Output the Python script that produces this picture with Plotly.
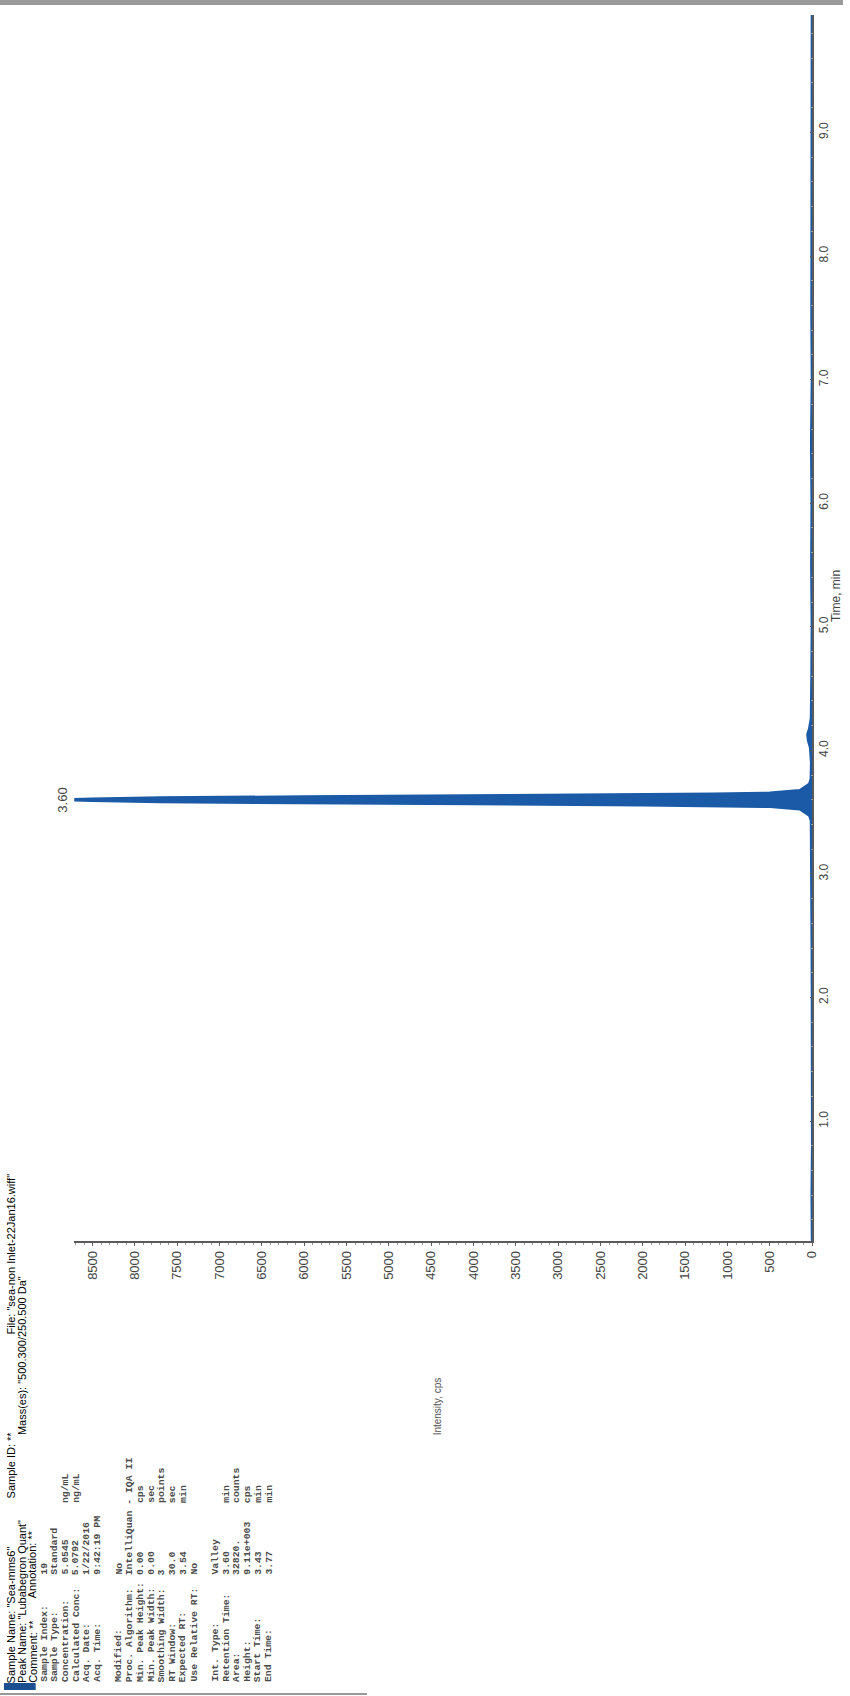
import plotly.graph_objects as go

# ---- chromatogram data (XIC 500.300/250.500 Da) ----
time_min = [0.03, 0.40, 0.80, 1.20, 1.60, 2.00, 2.40, 2.80, 3.10, 3.30, 3.43, 3.47,
            3.52, 3.54, 3.548, 3.553, 3.562, 3.57, 3.578, 3.588, 3.60, 3.612,
            3.622, 3.63, 3.638, 3.647, 3.652, 3.66, 3.68, 3.73, 3.77, 3.90, 4.02,
            4.08, 4.13, 4.18, 4.26, 4.60, 5.00, 5.50, 6.00, 6.50, 7.00, 7.50,
            8.00, 8.50, 9.00, 9.50, 9.95]
intensity_cps = [8, 12, 6, 10, 14, 9, 11, 13, 10, 15, 20, 40,
                 150, 500, 1160, 2000, 4000, 6000, 7700, 8500, 9110, 8500,
                 7700, 6000, 4000, 2000, 1160, 500, 150, 40, 22, 18, 30,
                 55, 62, 40, 20, 14, 10, 16, 12, 18, 9, 14,
                 11, 8, 12, 10, 9]

peak_rt = 3.60
peak_label = "3.60"

intensity_ticks = [0, 500, 1000, 1500, 2000, 2500, 3000, 3500, 4000, 4500,
                   5000, 5500, 6000, 6500, 7000, 7500, 8000, 8500]
time_ticks = [1.0, 2.0, 3.0, 4.0, 5.0, 6.0, 7.0, 8.0, 9.0]

# header: (line index, text, anchor edge, position along the page in px)
header_parts = [
    (0, 'Sample Name: "Sea-mms6"', "start", 1685),
    (0, 'Sample ID: **', "start", 1500),
    (0, 'File: "sea-non Inlet-22Jan16.wiff"', "end", 1171),
    (1, 'Peak Name: "Lubabegron Quant"', "start", 1685),
    (1, 'Mass(es): "500.300/250.500 Da"', "end", 1274),
    (2, 'Comment: **', "start", 1685),
    (2, 'Annotation: **', "start", 1600),
]

info_labels = ["Sample Index:", "Sample Type:", "Concentration:", "Calculated Conc:",
               "Acq. Date:", "Acq. Time:", "", "Modified:", "Proc. Algorithm:",
               "Min. Peak Height:", "Min. Peak Width:", "Smoothing Width:",
               "RT Window:", "Expected RT:", "Use Relative RT:", "",
               "Int. Type:", "Retention Time:", "Area:", "Height:",
               "Start Time:", "End Time:"]
info_values = ["19", "Standard", "5.0545", "5.0792", "1/22/2016", "9:42:19 PM", "",
               "No", "IntelliQuan - IQA II", "0.00", "0.00", "3", "30.0", "3.54",
               "No", "", "Valley", "3.60", "32820.", "9.11e+003", "3.43", "3.77"]
info_units = ["", "", "ng/mL", "ng/mL", "", "", "", "", "", "cps", "sec", "points",
              "sec", "min", "", "", "", "min", "counts", "cps", "min", "min"]

# ---- page geometry (pixels) ----
W, H = 850, 1696
X_LEFT, X_RIGHT = 75, 819        # intensity axis extent (high -> 0)
Y_TOP, Y_BOTTOM = 15, 1241       # time axis extent
INT_MAX = 8715
T_MIN, T_MAX = 0.03, 9.95


def px(x):
    return x / W


def py(y):
    return 1 - y / H


BLUE = "#1b5aa6"
AXIS = "#5a5a5a"
SANS = "Liberation Sans, Arial, sans-serif"

fig = go.Figure()

fig.add_trace(go.Scatter(
    x=intensity_cps, y=time_min, mode="lines",
    line=dict(color=BLUE, width=1.6),
    fill="tozerox", fillcolor=BLUE,
    hoverinfo="skip", showlegend=False, cliponaxis=True,
))

fig.update_layout(
    width=W, height=H,
    margin=dict(l=0, r=0, t=0, b=0),
    paper_bgcolor="white", plot_bgcolor="white",
    showlegend=False,
    xaxis=dict(
        domain=[px(X_LEFT), px(X_RIGHT)],
        range=[INT_MAX, 0],
        tickmode="array", tickvals=intensity_ticks,
        ticktext=[str(v) for v in intensity_ticks],
        tickangle=-90, ticks="outside", ticklen=3, tickcolor=AXIS,
        tickfont=dict(family=SANS, size=13, color="#444"),
        showline=True, linecolor=AXIS, linewidth=1.5,
        showgrid=False, zeroline=False, anchor="y",
        minor=dict(ticks="outside", ticklen=2, dtick=100, tickcolor="#999"),
    ),
    yaxis=dict(
        domain=[py(Y_BOTTOM), py(Y_TOP)],
        range=[T_MIN, T_MAX],
        side="right",
        tickmode="array", tickvals=time_ticks,
        ticktext=[f"{v:.1f}" for v in time_ticks],
        tickangle=-90, ticks="inside", ticklen=3, tickcolor=AXIS,
        tickfont=dict(family=SANS, size=12, color="#444"),
        showline=True, linecolor=AXIS, linewidth=1.5,
        showgrid=False, zeroline=False, anchor="x",
        minor=dict(ticks="inside", ticklen=2, dtick=0.2, tickcolor="#999"),
    ),
)

annotations = []

# retention-time label beyond the apex
annotations.append(dict(
    x=INT_MAX, y=peak_rt, xref="x", yref="y", text=peak_label, showarrow=False,
    textangle=-90, xanchor="right", yanchor="middle", xshift=-2,
    font=dict(family=SANS, size=13, color="#444"),
))

# axis titles
annotations.append(dict(
    x=px(843), y=py(624), xref="paper", yref="paper", text="Time, min",
    showarrow=False, textangle=-90, xanchor="center", yanchor="bottom",
    font=dict(family=SANS, size=12, color="#444"),
))
annotations.append(dict(
    x=px(441), y=py(1406), xref="paper", yref="paper", text="Intensity, cps",
    showarrow=False, textangle=-90, xanchor="center", yanchor="middle",
    font=dict(family=SANS, size=10, color="#555"),
))

# header lines
for line, text, edge, ypos in header_parts:
    annotations.append(dict(
        x=px(11 + 10.8 * line), y=py(ypos), xref="paper", yref="paper",
        text=text, showarrow=False, textangle=-90,
        xanchor="center", yanchor="bottom" if edge == "start" else "top",
        font=dict(family=SANS, size=11, color="#000000"),
    ))

# sample / processing / integration block
MONO = dict(family="Liberation Mono, DejaVu Sans Mono, monospace", size=9.8,
            color="#4a4a4a", weight="bold")
for i, (lab, val, unit) in enumerate(zip(info_labels, info_values, info_units)):
    xc = px(44 + 10.8 * i)
    for text, ystart in ((lab, 1684), (val, 1577), (unit, 1505)):
        if not text:
            continue
        annotations.append(dict(
            x=xc, y=py(ystart), xref="paper", yref="paper", text=text,
            showarrow=False, textangle=-90, xanchor="center", yanchor="bottom",
            font=MONO,
        ))

fig.update_layout(annotations=annotations)

# page decorations: top rule, bottom rule and colour swatch
fig.add_shape(type="rect", xref="paper", yref="paper",
              x0=0, x1=1, y0=py(5), y1=1, fillcolor="#9a9a9a", line_width=0)
fig.add_shape(type="line", xref="paper", yref="paper",
              x0=0, x1=px(370), y0=py(1694), y1=py(1694),
              line=dict(color="#999", width=2))
fig.add_shape(type="rect", xref="paper", yref="paper",
              x0=px(4), x1=px(36), y0=py(1690), y1=py(1683),
              fillcolor="#1b4f8f", line_width=0)

fig.write_html("out.html")
